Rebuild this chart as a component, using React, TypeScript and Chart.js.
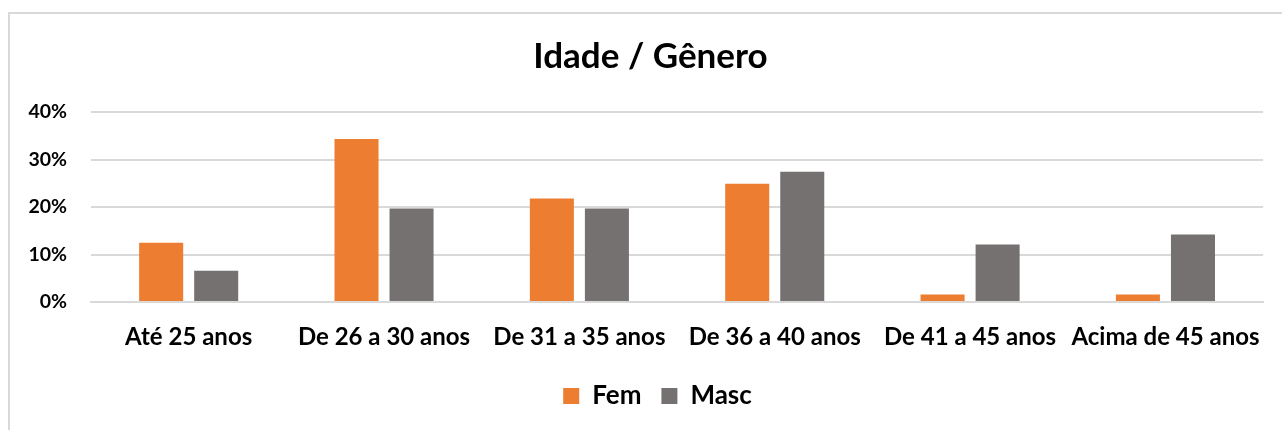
import React, { useEffect, useRef } from "react";
import { Chart, registerables } from "chart.js";

Chart.register(...registerables);

const categories = [
  "Até 25 anos",
  "De 26 a 30 anos",
  "De 31 a 35 anos",
  "De 36 a 40 anos",
  "De 41 a 45 anos",
  "Acima de 45 anos",
];
const femValues = [12.5, 34.3, 21.8, 24.9, 1.6, 1.6];
const mascValues = [6.6, 19.7, 19.7, 27.4, 12.1, 14.2];
const yTicks = [0, 10, 20, 30, 40];

const FONT = "Lato, 'Open Sans', sans-serif";

const shiftPlugin = {
  id: "shiftBlocks",
  afterLayout(chart: any) {
    const t = chart.titleBlock;
    if (t) {
      t.left += 5;
      t.right += 5;
    }
    const l = chart.legend;
    if (l) {
      l.left += 12;
      l.right += 12;
    }
  },
};

export default function App() {
  const ref = useRef<HTMLCanvasElement | null>(null);

  useEffect(() => {
    if (!ref.current) return;
    const chart = new Chart(ref.current, {
      type: "bar",
      data: {
        labels: categories,
        datasets: [
          {
            label: "Fem",
            data: femValues,
            backgroundColor: "#ED7D31",
            categoryPercentage: 0.5635,
            barPercentage: 0.8,
          },
          {
            label: "Masc",
            data: mascValues,
            backgroundColor: "#767171",
            categoryPercentage: 0.5635,
            barPercentage: 0.8,
          },
        ],
      },
      options: {
        animation: false,
        responsive: false,
        maintainAspectRatio: false,
        layout: { padding: { left: 17, right: 18, top: 0, bottom: 5 } },
        plugins: {
          title: {
            display: true,
            text: "Idade / Gênero",
            color: "#000",
            font: { family: FONT, size: 35, weight: "bold" },
            padding: { top: 22, bottom: 34 },
          },
          legend: {
            position: "bottom",
            labels: {
              color: "#000",
              font: { family: FONT, size: 26, weight: "bold" },
              boxWidth: 16,
              boxHeight: 16,
              padding: 20,
            },
          },
          tooltip: { enabled: false },
        },
        scales: {
          x: {
            grid: { display: false, drawTicks: false },
            border: { display: true, color: "#d9d9d9", width: 2 },
            afterFit: (axis: any) => {
              axis.height = 61;
            },
            ticks: {
              color: "#000",
              padding: 21,
              maxRotation: 0,
              autoSkip: false,
              font: { family: FONT, size: 24, weight: "bold" },
            },
          },
          y: {
            min: 0,
            max: 40,
            afterBuildTicks: (axis: any) => {
              axis.ticks = yTicks.map((v) => ({ value: v }));
            },
            afterFit: (axis: any) => {
              axis.width = 64;
            },
            grid: { color: "#d9d9d9", lineWidth: 2, drawTicks: false },
            border: { display: false },
            ticks: {
              color: "#000",
              padding: 24,
              font: { family: FONT, size: 19.5, weight: "bold" },
              callback: (v: any) => v + "%",
            },
          },
        },
      },
      plugins: [shiftPlugin],
    });
    return () => chart.destroy();
  }, []);

  return (
    <div
      style={{
        position: "fixed",
        left: 8,
        top: 12,
        width: 1290,
        height: 430,
        borderTop: "2px solid #d9d9d9",
        borderLeft: "2px solid #d9d9d9",
        background: "#fff",
      }}
    >
      <canvas ref={ref} width={1272} height={410} style={{ display: "block" }} />
    </div>
  );
}
